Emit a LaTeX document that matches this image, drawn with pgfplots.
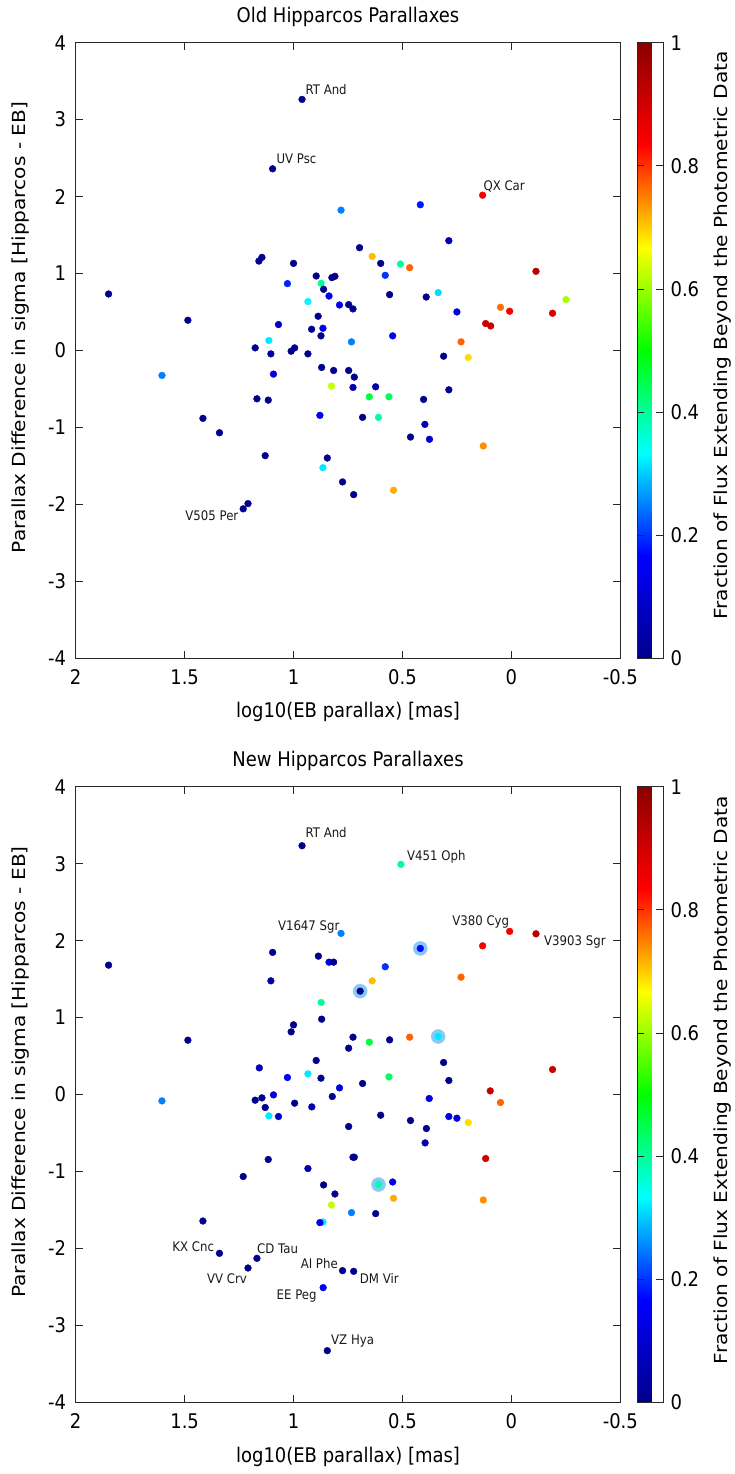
\documentclass[border=0pt]{standalone}
\usepackage{fontspec}
\setmainfont{DejaVu Sans}[FakeStretch=0.89]
\newfontfamily\rotfont{DejaVu Sans}[FakeStretch=1.12]
\usepackage{pgfplots}
\usepackage{pgfplotstable}
\pgfplotsset{compat=1.18}
\definecolor{ring}{RGB}{135,202,245}
\definecolor{axc}{RGB}{40,40,40}

\pgfplotstableread{
x y c
0.961 3.263 0
1.096 2.361 0
0.782 1.824 0.25
0.697 1.336 0
1.159 1.162 0
1.145 1.210 0
1.000 1.132 0
0.896 0.968 0
1.028 0.869 0.19
0.873 0.873 0.40
0.862 0.795 0
0.824 0.947 0
0.810 0.964 0
0.837 0.708 0.14
0.934 0.636 0.33
0.789 0.591 0.14
0.747 0.596 0
0.727 0.540 0
1.849 0.734 0
1.485 0.393 0
1.069 0.337 0.08
0.887 0.445 0
0.917 0.276 0
0.865 0.289 0.14
0.874 0.190 0
1.113 0.130 0.32
0.734 0.112 0.25
1.176 0.034 0
1.104 -0.044 0.03
1.011 -0.009 0
0.995 0.034 0
0.934 -0.044 0
1.092 -0.307 0.12
1.604 -0.324 0.25
0.871 -0.220 0
0.816 -0.260 0
0.747 -0.260 0
0.721 -0.346 0
0.826 -0.463 0.63
0.727 -0.480 0.05
1.168 -0.628 0
1.116 -0.645 0
1.416 -0.882 0
1.340 -1.069 0
0.879 -0.843 0.14
1.130 -1.367 0
0.845 -1.397 0
0.865 -1.523 0.32
0.775 -1.708 0
0.724 -1.873 0
1.209 -1.990 0
1.231 -2.058 0
0.418 1.894 0.18
0.132 2.018 0.85
0.287 1.427 0.05
0.639 1.223 0.71
0.600 1.132 0
0.509 1.123 0.40
0.467 1.076 0.77
0.579 0.977 0.20
-0.113 1.029 0.93
0.559 0.726 0
0.391 0.695 0
0.336 0.752 0.31
0.250 0.501 0.12
-0.251 0.661 0.61
0.050 0.561 0.76
0.008 0.510 0.84
-0.189 0.484 0.89
0.118 0.350 0.91
0.095 0.319 0.91
0.545 0.190 0.14
0.231 0.112 0.77
0.311 -0.074 0
0.198 -0.091 0.69
0.623 -0.472 0.04
0.652 -0.602 0.46
0.562 -0.602 0.44
0.287 -0.511 0
0.403 -0.636 0
0.683 -0.869 0
0.610 -0.869 0.39
0.397 -0.960 0.06
0.463 -1.125 0
0.376 -1.154 0.10
0.129 -1.241 0.74
0.541 -1.816 0.72
}\oldtab

\pgfplotstableread{
x y c
0.961 3.233 0
0.782 2.094 0.25
1.096 1.847 0
0.886 1.798 0
0.837 1.720 0.13
0.816 1.720 0
1.104 1.477 0.03
1.849 1.681 0
0.694 1.343 0
0.873 1.196 0.40
1.000 0.905 0
1.011 0.814 0
0.871 0.979 0
0.727 0.745 0
0.747 0.602 0
1.485 0.706 0
1.157 0.346 0.06
0.896 0.442 0
1.028 0.221 0.16
0.934 0.268 0.32
0.874 0.212 0
0.789 0.086 0.13
0.683 0.143 0
0.507 2.991 0.40
0.418 1.898 0.17
0.132 1.932 0.85
0.008 2.120 0.85
-0.113 2.088 0.93
0.579 1.660 0.20
0.639 1.477 0.71
0.231 1.525 0.77
0.652 0.680 0.46
0.559 0.710 0
0.467 0.745 0.77
0.336 0.754 0.32
0.311 0.416 0
-0.189 0.325 0.90
0.562 0.229 0.44
0.287 0.182 0
0.097 0.047 0.91
0.822 -0.026 0
0.377 -0.052 0.12
0.050 -0.104 0.77
0.600 -0.269 0
0.463 -0.338 0
0.287 -0.286 0.12
0.250 -0.308 0.12
0.198 -0.364 0.69
0.747 -0.416 0
0.390 -0.442 0
0.396 -0.629 0.05
0.727 -0.815 0
0.721 -0.815 0
0.118 -0.832 0.90
0.610 -1.170 0.39
0.545 -1.137 0.14
0.810 -1.293 0
0.541 -1.349 0.72
0.129 -1.371 0.74
0.826 -1.436 0.63
0.734 -1.535 0.25
0.623 -1.548 0
0.775 -2.289 0
0.724 -2.298 0
1.604 -0.083 0.25
1.176 -0.074 0
1.145 -0.044 0
1.092 -0.005 0.12
1.130 -0.169 0
1.113 -0.278 0.32
1.069 -0.286 0.08
0.995 -0.113 0
0.916 -0.161 0.05
1.116 -0.845 0
0.934 -0.962 0.05
1.231 -1.066 0
0.862 -1.175 0
0.865 -1.657 0.32
0.879 -1.665 0.14
1.416 -1.644 0
1.340 -2.064 0
1.168 -2.129 0
1.209 -2.255 0
0.864 -2.510 0.15
0.845 -3.329 0
}\newtab

\pgfplotstableread{
x y
0.694 1.343
0.418 1.898
0.336 0.754
0.610 -1.170
}\ringtab

\tikzset{lab/.style={inner sep=0pt, font=\fontsize{13.2}{15}\selectfont, text=black!90}}

\pgfplotsset{
  colormap={gjet}{rgb255=(0,0,139) rgb255=(0,0,255) rgb255=(0,255,255) rgb255=(0,255,0) rgb255=(255,255,0) rgb255=(255,0,0) rgb255=(139,0,0)},
  hip/.style={
    scale only axis, width=544.6pt, height=615.6pt,
    x dir=reverse, xmin=-0.5, xmax=2, ymin=-4, ymax=4,
    xtick={-0.5,0,0.5,1,1.5,2}, ytick={-4,-3,-2,-1,0,1,2,3,4},
    xtick pos=both, ytick pos=both, xticklabel pos=lower, yticklabel pos=left,
    tick align=inside, major tick length=7.5pt,
    axis line style={line width=0.9pt, axc},
    every tick/.style={axc, line width=0.8pt},
    tick label style={font=\fontsize{20.2}{24}\selectfont, text=black},
    /pgf/number format/assume math mode=true,
    xticklabel style={yshift=-7.6pt},
    yticklabel style={xshift=-6pt},
    colormap name=gjet, point meta min=0, point meta max=1,
    colorbar,
    colorbar style={
      at={(parent axis.north east)}, anchor=north west, xshift=8.2pt,
      width=26pt,
      ytick={0,0.2,0.4,0.6,0.8,1},
      ytick pos=both, yticklabel pos=right,
      tick align=inside, major tick length=7pt,
      axis line style={line width=0.9pt, axc},
      every tick/.style={axc, line width=0.8pt},
      yticklabel style={xshift=4pt, font=\fontsize{20.2}{24}\selectfont, text=black},
      /pgf/number format/assume math mode=true,
    },
  },
  pts/.style={scatter, only marks, mark=*, mark size=3.4pt, scatter src=explicit,
    scatter/use mapped color={draw=mapped color, fill=mapped color}},
}

\begin{document}
\begin{tikzpicture}
\useasboundingbox (0,0) rectangle (734pt,1474pt);

% ---------- top panel ----------
\begin{axis}[hip, at={(75.7pt,815.7pt)}, anchor=south west]
\addplot[pts] table[x=x, y=y, meta=c] {\oldtab};
\node[lab, anchor=base west, xshift=3.3pt, yshift=4.9pt] at (axis cs:0.961,3.263) {RT And};
\node[lab, anchor=base west, xshift=3.7pt, yshift=5.5pt] at (axis cs:1.096,2.361) {UV Psc};
\node[lab, anchor=base west, xshift=0.7pt, yshift=4.9pt] at (axis cs:0.132,2.018) {QX Car};
\node[lab, anchor=base east, xshift=-4.7pt, yshift=-11.5pt] at (axis cs:1.231,-2.058) {V505 Per};
\end{axis}

% ---------- bottom panel ----------
\begin{axis}[hip, at={(75.7pt,71.7pt)}, anchor=south west]
\addplot[only marks, mark=*, mark size=7pt, color=ring] table[x=x, y=y] {\ringtab};
\addplot[pts] table[x=x, y=y, meta=c] {\newtab};
\node[lab, anchor=base west, xshift=3.3pt, yshift=7.9pt] at (axis cs:0.961,3.233) {RT And};
\node[lab, anchor=base east, xshift=-1.4pt, yshift=2.8pt] at (axis cs:0.782,2.094) {V1647 Sgr};
\node[lab, anchor=base west, xshift=6pt, yshift=3.8pt] at (axis cs:0.507,2.991) {V451 Oph};
\node[lab, anchor=base east, xshift=-0.3pt, yshift=5.8pt] at (axis cs:0.008,2.120) {V380 Cyg};
\node[lab, anchor=base west, xshift=8pt, yshift=-11.4pt] at (axis cs:-0.113,2.088) {V3903 Sgr};
\node[lab, anchor=base east, xshift=-5.3pt, yshift=1.5pt] at (axis cs:1.340,-2.064) {KX Cnc};
\node[lab, anchor=base west, xshift=0pt, yshift=5.2pt] at (axis cs:1.168,-2.129) {CD Tau};
\node[lab, anchor=base east, xshift=-1pt, yshift=-15.5pt] at (axis cs:1.209,-2.255) {VV Crv};
\node[lab, anchor=base east, xshift=-4.6pt, yshift=2.2pt] at (axis cs:0.775,-2.289) {AI Phe};
\node[lab, anchor=base west, xshift=6pt, yshift=-12.1pt] at (axis cs:0.724,-2.298) {DM Vir};
\node[lab, anchor=base east, xshift=-6.3pt, yshift=-11.8pt] at (axis cs:0.864,-2.510) {EE Peg};
\node[lab, anchor=base west, xshift=3.7pt, yshift=5.8pt] at (axis cs:0.845,-3.329) {VZ Hya};
\end{axis}

% ---------- titles and axis labels ----------
\node[anchor=base, inner sep=0pt, font=\fontsize{20.2}{24}\selectfont] at (348pt,1451pt) {Old Hipparcos Parallaxes};
\node[anchor=base, inner sep=0pt, font=\fontsize{20.2}{24}\selectfont] at (348pt,707pt) {New Hipparcos Parallaxes};
\node[anchor=base, inner sep=0pt, font=\fontsize{20.2}{24}\selectfont] at (348pt,756pt) {log10(EB parallax) [mas]};
\node[anchor=base, inner sep=0pt, font=\fontsize{20.2}{24}\selectfont] at (348pt,12pt) {log10(EB parallax) [mas]};
\node[rotate=90, inner sep=0pt, font=\rotfont\fontsize{18}{21}\selectfont] at (21pt,1146.5pt) {Parallax Difference in sigma [Hipparcos - EB]};
\node[rotate=90, inner sep=0pt, font=\rotfont\fontsize{18}{21}\selectfont] at (21pt,402pt) {Parallax Difference in sigma [Hipparcos - EB]};
\node[rotate=90, inner sep=0pt, font=\rotfont\fontsize{18}{21}\selectfont] at (723pt,1138.5pt) {Fraction of Flux Extending Beyond the Photometric Data};
\node[rotate=90, inner sep=0pt, font=\rotfont\fontsize{18}{21}\selectfont] at (723pt,394pt) {Fraction of Flux Extending Beyond the Photometric Data};
\end{tikzpicture}
\end{document}
